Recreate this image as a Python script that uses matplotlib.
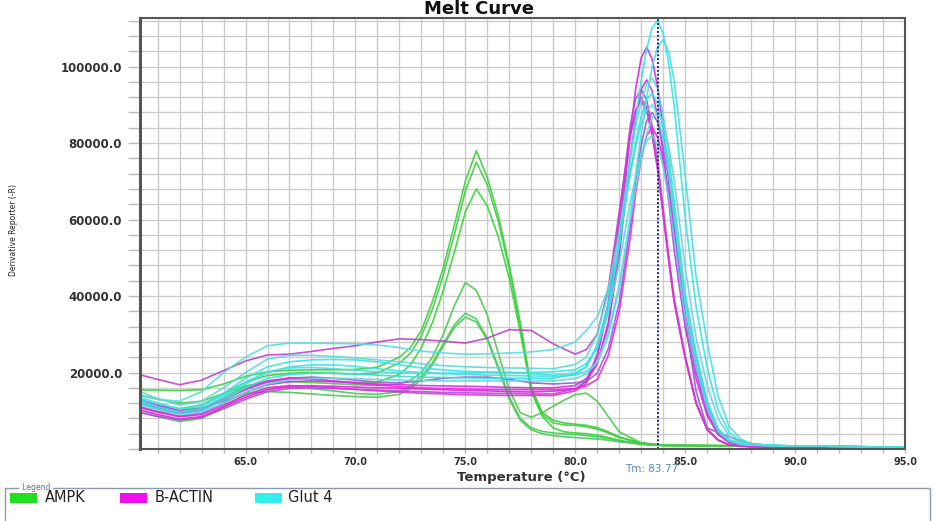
import numpy as np
import matplotlib
matplotlib.use("Agg")
import matplotlib.pyplot as plt
from matplotlib.patches import Rectangle
from matplotlib import font_manager

# ---------------- data (values in thousands of derivative reporter units) -------------
temps_ampk = [60.2, 61, 62, 63, 64, 65, 66, 67, 68, 69, 70, 71, 72, 72.5, 73, 73.5, 74, 74.5,
              75, 75.5, 76, 76.5, 77, 77.5, 78, 78.5, 79, 79.5, 80, 80.5, 81, 81.5, 82, 83, 84,
              86, 88, 90, 92, 95]
ampk_1 = [15.4, 15.4, 15.3, 15.5, 17, 19, 20.2, 20.6, 20.7, 20.7, 20.8, 21.4, 24,
          26.5, 31, 38.5, 47.5, 58.5, 70, 78, 71, 61, 48, 33, 16, 9.5,
          7.5, 6.8, 6.5, 6.2, 5.6, 4.5, 3.2, 1.6, 1.0, 0.9, 0.8, 0.7, 0.6, 0.3]
ampk_2 = [12.8, 11.5, 10.5, 11.5, 14.5, 17.5, 19.2, 19.8, 20, 19.8, 19.6, 19.9, 22.5,
          25, 29.5, 36.5, 45.5, 56, 67.5, 75, 69, 59.5, 47, 32, 15.5, 9,
          6.8, 6.3, 6.2, 5.8, 5.2, 4.2, 3.0, 1.5, 1.0, 0.9, 0.8, 0.7, 0.6, 0.3]
ampk_3 = [11, 9.8, 9.4, 10.5, 13.5, 16.3, 17.8, 18.3, 18.2, 17.8, 17.4, 17.5, 19.5,
          22, 26.5, 33, 41.5, 51.5, 62, 68, 63.5, 55.5, 44.5, 30.5, 15, 8.5,
          5.5, 4.5, 4.2, 4.0, 3.6, 3.0, 2.3, 1.3, 0.9, 0.9, 0.8, 0.7, 0.6, 0.3]
ampk_4 = [14.1, 13, 12, 12.5, 14.5, 16.5, 17.5, 17.6, 17.4, 17.1, 16.8, 16.6, 17,
          18, 20, 24, 30, 37.5, 43.5, 41.5, 35, 25, 15.5, 9.5, 8.3, 9.5,
          11.2, 12.8, 14.2, 14.6, 12.5, 8.5, 4.5, 1.6, 1.0, 0.9, 0.8, 0.7, 0.6, 0.3]
ampk_5 = [9.7, 8.5, 7.2, 8, 11, 14.3, 16, 16.2, 15.8, 15.2, 14.5, 14.3, 15,
          16.5, 19, 22.5, 27.5, 32.5, 35.5, 34, 29, 21.5, 13.5, 8, 5.5, 4.6,
          4.2, 4, 3.8, 3.5, 3.2, 2.7, 2.1, 1.3, 0.9, 0.8, 0.7, 0.6, 0.5, 0.3]
ampk_6 = [12, 11, 10.3, 10.8, 12.5, 14.5, 15, 14.8, 14.4, 14, 13.7, 13.5, 14.3,
          15.8, 18.2, 22, 27, 31.8, 34.5, 33.2, 28.5, 21, 13, 7.5, 5, 4,
          3.5, 3.2, 3, 2.8, 2.6, 2.3, 1.9, 1.2, 0.9, 0.8, 0.7, 0.6, 0.5, 0.3]

temps_ref = [60.2, 61, 62, 63, 64, 65, 66, 67, 68, 69, 70, 71, 72, 73, 74, 75, 76, 77, 78, 79,
             80, 80.5, 81, 81.5, 82, 82.5, 82.75, 83, 83.25, 83.5, 83.75, 84, 84.25, 84.5, 85,
             85.5, 86, 86.5, 87, 87.5, 88, 89, 90, 92, 95]
bactin_1 = [19.4, 18.2, 16.8, 18, 20.5, 23, 24.6, 24.8, 25.5, 26.3, 27, 28, 28.8, 28.6, 28.2, 27.7, 29, 31.2, 31, 27.5,
            24.8, 26, 30, 42, 62, 82, 88.5, 92, 89.2, 82.8, 73.6, 61.6, 49.7, 38.6, 23.9, 12, 5.1, 2.3, 1.1, 0.8, 0.6, 0.5, 0.4, 0.3, 0.2]
bactin_2 = [10.2, 9, 7.8, 8.5, 11, 13.5, 15.5, 16.3, 16.5, 16.4, 16.2, 16, 15.9, 15.7, 15.5, 15.3, 15.2, 15, 14.9, 15.1,
            15.7, 17.7, 22.2, 33, 53.7, 82.5, 94.2, 102.3, 105, 101.9, 94.5, 84, 70.4, 56.7, 34.7, 20, 9.5, 4, 1.9, 1.05, 0.8, 0.6, 0.5, 0.4, 0.2]
bactin_3 = [11, 9.8, 8.6, 9.3, 12, 14.8, 16.8, 17.6, 17.8, 17.6, 17.3, 17, 16.8, 16.6, 16.5, 16.4, 16.3, 16.1, 16, 16,
            16.6, 18.4, 22.4, 32.1, 50.6, 76.4, 86.8, 94.1, 96.5, 93.6, 86.9, 77.2, 64.7, 52.1, 31.8, 18.3, 8.7, 3.7, 1.7, 1.0, 0.8, 0.6, 0.5, 0.4, 0.2]
bactin_4 = [9.5, 8.5, 7.6, 8.2, 10.5, 13, 15, 15.8, 16, 15.8, 15.6, 15.4, 15.2, 15, 14.8, 14.7, 14.6, 14.5, 14.4, 14.4,
            15.7, 17.7, 24.8, 38.4, 60.6, 84.5, 91.6, 94, 91.2, 84.6, 75.2, 63, 50.8, 39.5, 24.4, 12.2, 5.2, 2.4, 1.1, 0.8, 0.6, 0.5, 0.4, 0.3, 0.2]
bactin_5 = [10.8, 9.6, 8.4, 9, 11.5, 14, 16, 16.6, 16.4, 16, 15.6, 15.2, 14.9, 14.6, 14.4, 14.2, 14.1, 14, 14, 14,
            15.2, 17.1, 24, 37.1, 58.7, 81.8, 88.7, 91, 88.3, 81.9, 72.8, 61, 49.1, 38.2, 23.7, 11.8, 5, 2.3, 1.1, 0.8, 0.6, 0.5, 0.4, 0.3, 0.2]
bactin_6 = [12, 10.8, 9.5, 10.2, 12.8, 15.5, 17.5, 18.5, 18.8, 18.5, 18, 17.5, 17.3, 17.8, 18.5, 18.8, 18.8, 18.2, 17.3, 17,
            17.3, 17.7, 19.8, 26.2, 38.3, 58.2, 70.3, 79.5, 85.9, 88, 85.4, 79.2, 70.4, 59, 34, 15, 5.5, 4.3, 3.2, 2.2, 1.4, 0.9, 0.6, 0.4, 0.2]
bactin_7 = [13, 11.5, 10, 10.5, 13, 15.8, 17.8, 18.6, 18.3, 17.8, 17.2, 16.7, 16.3, 16, 15.8, 15.7, 15.6, 15.5, 15.5, 15.5,
            15.8, 16.5, 18.2, 24.4, 36, 55.2, 66.9, 75.8, 82, 84, 81.5, 75.6, 67.2, 56.3, 35.3, 21.8, 10.9, 4.6, 2.1, 1.0, 0.8, 0.6, 0.5, 0.4, 0.2]

glut4_1 = [14, 13, 12.5, 15, 20, 24, 27, 27.7, 27.7, 27.6, 27.5, 27.2, 26.5, 25.6, 25.1, 24.8, 24.9, 25.1, 25.4, 26,
           28, 31, 34.6, 42, 56, 72, 79, 85, 88.5, 90, 87.3, 81, 72, 60.3, 37.8, 23.4, 11.7, 5, 2.3, 1.3, 1.0, 0.9, 0.8, 0.7, 0.4]
glut4_2 = [13.5, 12, 10.5, 11.5, 14.5, 18.5, 21.5, 22.8, 23.3, 23.4, 23.3, 22.8, 22, 21.2, 20.7, 20.3, 20.1, 20, 20, 20.2,
           20.7, 22.3, 26.4, 36.6, 53.1, 75.2, 86.2, 96.4, 104.6, 110.2, 112, 108.6, 100.8, 89.6, 60.5, 37, 21.3, 10.1, 4.3, 2.0, 1.3, 0.9, 0.8, 0.7, 0.4]
glut4_3 = [12.5, 11, 9.7, 10.5, 13.5, 17, 20, 21.5, 22, 22, 21.6, 21, 20.4, 20, 19.7, 19.5, 19.3, 19.2, 19.1, 19,
           19.3, 20.3, 22.5, 29.6, 41.9, 60.4, 71.8, 82.4, 92, 100, 105.2, 107, 103.8, 96.3, 71.7, 44.9, 27.8, 13.9, 5.9, 2.7, 1.3, 0.9, 0.8, 0.7, 0.4]
glut4_4 = [15, 13.2, 11.5, 12.5, 16, 20, 23.5, 24.5, 24.5, 24.2, 23.8, 23.3, 22.8, 22.3, 21.8, 21.5, 21.3, 21.2, 21.1, 21,
           22.1, 24, 30.1, 40.8, 56.7, 75.7, 84.1, 90.9, 95.5, 97, 94.1, 87.3, 77.6, 65, 40.7, 25.2, 12.6, 5.3, 2.4, 1.4, 1.1, 0.9, 0.8, 0.7, 0.4]
glut4_5 = [12, 10.5, 9.2, 10, 12.8, 16, 18.5, 19.5, 19.8, 19.8, 19.6, 19.3, 19, 18.8, 18.7, 18.6, 18.5, 18.5, 18.5, 18.5,
           19.6, 21.5, 27.4, 37.9, 53.5, 72.1, 80.3, 87, 91.5, 93, 90.2, 83.7, 74.4, 62.3, 39.1, 24.2, 12.1, 5.1, 2.3, 1.3, 1.0, 0.9, 0.8, 0.7, 0.4]
glut4_6 = [11.5, 10.2, 9, 9.6, 12, 14.8, 17, 18, 18.4, 18.5, 18.4, 18.2, 18, 17.9, 17.8, 17.8, 17.8, 17.8, 17.8, 17.8,
           18.4, 19.6, 22.7, 30.4, 43.1, 59.9, 68.3, 76.1, 82.4, 86.6, 88, 85.4, 79.2, 70.4, 47.5, 29, 16.7, 7.9, 3.3, 1.6, 1.1, 0.9, 0.8, 0.7, 0.4]
glut4_7 = [13, 11.8, 10.5, 11.2, 14, 17.5, 20.2, 21.2, 21.3, 21, 20.6, 20.2, 19.9, 19.8, 19.8, 19.9, 20, 20, 19.7, 19.3,
           19.9, 21.5, 26.6, 35.4, 48.6, 64.4, 71.3, 77, 80.7, 82, 79.5, 73.8, 65.6, 54.9, 34.4, 21.3, 10.7, 4.5, 2.1, 1.2, 1.0, 0.9, 0.8, 0.7, 0.4]

tm_value = 83.77
legend_labels = ["AMPK", "B-ACTIN", "Glut 4"]
x_tick_values = [65, 70, 75, 80, 85, 90, 95]
x_tick_labels = ["65.0", "70.0", "75.0", "80.0", "85.0", "90.0", "95.0"]
y_tick_values = [20000, 40000, 60000, 80000, 100000]
y_tick_labels = ["20000.0", "40000.0", "60000.0", "80000.0", "100000.0"]
UNIT = 1000.0

# ---------------- styles -----------------
green_cols = ['#3ccf3c', '#44cc44', '#33d633', '#4cc84c', '#3fcf55', '#52c452']
mag_cols = ['#c040c8', '#e020e0', '#d030e0', '#b050d0', '#e030d8', '#9a5acc', '#ee22ee']
cyan_cols = ['#55dddd', '#33e6e6', '#40e0e8', '#5cd8d8', '#30e0e0', '#66d4e0', '#48dede']
legend_cols = ['#22dd22', '#ee11ee', '#33eeee']


def has_font(name):
    try:
        font_manager.findfont(font_manager.FontProperties(family=name), fallback_to_default=False)
        return True
    except Exception:
        return False


W, H = 935, 521
fig = plt.figure(figsize=(W / 100, H / 100), dpi=100)
fig.patch.set_facecolor('white')
ax = fig.add_axes([140 / W, 1 - 449 / H, (905 - 140) / W, (449 - 18) / H])

ta = np.array(temps_ampk)
tr = np.array(temps_ref)
for s, c in zip([ampk_1, ampk_2, ampk_3, ampk_4, ampk_5, ampk_6], green_cols):
    ax.plot(ta, np.array(s) * UNIT, color=c, lw=1.2, alpha=0.9)
for s, c in zip([bactin_1, bactin_2, bactin_3, bactin_4, bactin_5, bactin_6, bactin_7], mag_cols):
    ax.plot(tr, np.array(s) * UNIT, color=c, lw=1.2, alpha=0.9)
for s, c in zip([glut4_1, glut4_2, glut4_3, glut4_4, glut4_5, glut4_6, glut4_7], cyan_cols):
    ax.plot(tr, np.array(s) * UNIT, color=c, lw=1.2, alpha=0.9)

ax.axvline(tm_value, color='#1a2a80', ls=(0, (1, 1)), lw=1.4)

ax.set_xlim(60.2, 95.0)
ax.set_ylim(0, 112700)
ax.set_xticks(x_tick_values)
ax.set_xticklabels(x_tick_labels)
ax.set_xticks(np.arange(61, 96, 1), minor=True)
ax.set_yticks(y_tick_values)
ax.set_yticklabels(y_tick_labels)
ax.set_yticks(np.arange(0, 112700, 4000), minor=True)
ax.set_axisbelow(True)
ax.grid(which='both', color='#cccccc', lw=1.0)
ax.tick_params(axis='y', which='both', length=8.6, width=1, color='#bbbbbb', pad=4.3)
ax.tick_params(axis='x', which='both', length=3, width=1, color='#bbbbbb', pad=2.5)
for lab in ax.get_yticklabels():
    lab.set_fontsize(8.5)
    lab.set_fontweight('bold')
    lab.set_color('#333333')
for lab in ax.get_xticklabels():
    lab.set_fontsize(7)
    lab.set_fontweight('bold')
    lab.set_color('#333333')
for side in ['top', 'right', 'bottom']:
    ax.spines[side].set_color('#555555')
    ax.spines[side].set_linewidth(1.5)
ax.spines['left'].set_color('#555555')
ax.spines['left'].set_linewidth(2.2)

# Title at the very top edge
fig.text(479 / W, 1 - 0.5 / H, 'Melt Curve', ha='center', va='top',
         fontsize=13, fontweight='bold', color='#111111')

# Y label (condensed)
if has_font('Liberation Sans Narrow'):
    fig.text(14 / W, 1 - 230 / H, 'Derivative Reporter (-R)', rotation=90, ha='center', va='center',
             fontsize=7, family='Liberation Sans Narrow', color='#222222')
else:
    fig.text(14 / W, 1 - 230 / H, 'Derivative Reporter (-R)', rotation=90, ha='center', va='center',
             fontsize=5.5, color='#222222')

fig.text(521 / W, 1 - 477 / H, 'Temperature (\u00b0C)', ha='center', va='center',
         fontsize=9.5, fontweight='bold', color='#333333')
fig.text(652 / W, 1 - 469 / H, 'Tm: %.2f' % tm_value, ha='center', va='center',
         fontsize=7.5, color='#5a8ab8')

# Legend panel
fig.add_artist(Rectangle((5 / W, -0.1), (930 - 5) / W, (1 - 488 / H) + 0.1, transform=fig.transFigure,
                         fill=False, edgecolor='#8a9bb0', lw=1.0))
fig.text(20 / W, 1 - 487 / H, ' Legend ', ha='left', va='center', fontsize=5.5, color='#667788',
         bbox=dict(facecolor='white', edgecolor='none', pad=0.5))
patch_x = [10, 120, 255]
text_x = [45, 155, 288]
for px, tx, lab, col in zip(patch_x, text_x, legend_labels, legend_cols):
    fig.add_artist(Rectangle((px / W, 1 - 503 / H), 27 / W, 10 / H, transform=fig.transFigure,
                             facecolor=col, edgecolor='none'))
    fig.text(tx / W, 1 - 498 / H, lab, ha='left', va='center', fontsize=10.5, color='#222222')

fig.savefig('out.png', dpi=100, facecolor='white')
